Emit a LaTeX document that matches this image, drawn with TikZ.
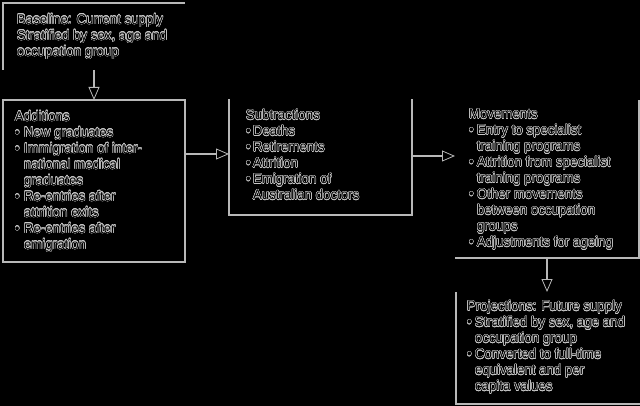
\documentclass[tikz,border=0pt]{standalone}
\usepackage{fontspec}
\setmainfont{Liberation Sans}[FakeStretch=0.95]
\usepackage{contour}
\usetikzlibrary{arrows.meta,calc}
\definecolor{lgray}{rgb}{0.72,0.72,0.72}
\definecolor{hgray}{rgb}{0.78,0.78,0.78}
\contourlength{0.4pt}
\newcommand\ol[1]{\contour{hgray}{\textcolor{black}{#1}}}
\newcommand\bl[2]{\ol{\makebox[#1][l]{\textbullet}#2}}
\newcommand\cl[2]{\ol{\hspace*{#1}#2}}
\begin{document}
\begin{tikzpicture}[x=1pt,y=-1pt,
  frame/.style={minimum width=#1, inner sep=0pt, outer sep=0pt, anchor=north west},
  edge/.style={draw=lgray, line width=1.3pt},
  txt/.style={anchor=north west, inner sep=0pt, outer sep=0pt, align=left,
    font=\fontsize{14}{16}\selectfont},
  arr/.style={draw=lgray, line width=1.3pt,
    -{Triangle[open, length=13pt, width=11pt, line width=0.8pt, fill=black]}}]
\fill[black] (0,0) rectangle (640,406);
\useasboundingbox (0,0) rectangle (640,406);
% frames
\node[frame=182pt, minimum height=67pt] (b1) at (3,3) {};
\node[frame=182pt, minimum height=162pt] (b2) at (3,100) {};
\node[frame=183pt, minimum height=116pt] (b3) at (229,99) {};
\node[frame=184pt, minimum height=158pt] (b4) at (455,100) {};
\node[frame=184pt, minimum height=112pt] (b5) at (456,292) {};
\draw[edge] (b1.south west) -- (b1.north west) -- (b1.north east);
\draw[edge] (b2.north west) rectangle (b2.south east);
\draw[edge] (b3.north west) -- (b3.south west) -- (b3.south east) -- (b3.north east);
\draw[edge] (b4.south west) -- (b4.south east) -- (b4.north east);
\draw[edge] (b5.north west) -- (b5.south west) -- (b5.south east);
% texts
\node[txt] (t1) at ([shift={(14,11)}]b1.north west)
  {\ol{Baseline: Current supply}\\ \ol{Stratified by sex, age and}\\ \ol{occupation group}};
\node[txt] (t2) at ([shift={(12,11)}]b2.north west)
  {\ol{Additions}\\
   \bl{9pt}{New graduates}\\
   \bl{9pt}{Immigration of inter-}\\
   \cl{9pt}{national medical}\\
   \cl{9pt}{graduates}\\
   \bl{9pt}{Re-entries after}\\
   \cl{9pt}{attrition exits}\\
   \bl{9pt}{Re-entries after}\\
   \cl{9pt}{emigration}};
\node[txt] (t3) at ([shift={(17,10.5)}]b3.north west)
  {\ol{Subtractions}\\
   \bl{7pt}{Deaths}\\
   \bl{7pt}{Retirements}\\
   \bl{7pt}{Attrition}\\
   \bl{7pt}{Emigration of}\\
   \cl{7pt}{Australian doctors}};
\node[txt] (t4) at ([shift={(14,9)}]b4.north west)
  {\ol{Movements}\\
   \bl{8pt}{Entry to specialist}\\
   \cl{8pt}{training programs}\\
   \bl{8pt}{Attrition from specialist}\\
   \cl{8pt}{training programs}\\
   \bl{8pt}{Other movements}\\
   \cl{8pt}{between occupation}\\
   \cl{8pt}{groups}\\
   \bl{8pt}{Adjustments for ageing}};
\node[txt] (t5) at ([shift={(11,8.7)}]b5.north west)
  {\ol{Projections: Future supply}\\
   \bl{8pt}{Stratified by sex, age and}\\
   \cl{8pt}{occupation group}\\
   \bl{8pt}{Converted to full-time}\\
   \cl{8pt}{equivalent and per}\\
   \cl{8pt}{capita values}};
% connectors
\coordinate (r2) at (0,154);
\coordinate (r3) at (0,156);
\draw[arr] (b1.south) -- (b2.north);
\draw[arr] (b2.east |- r2) -- (b3.west |- r2);
\draw[arr] (b3.east |- r3) -- (b4.west |- r3);
\draw[arr] (b4.south) -- (b5.north -| b4.south);
\end{tikzpicture}
\end{document}
